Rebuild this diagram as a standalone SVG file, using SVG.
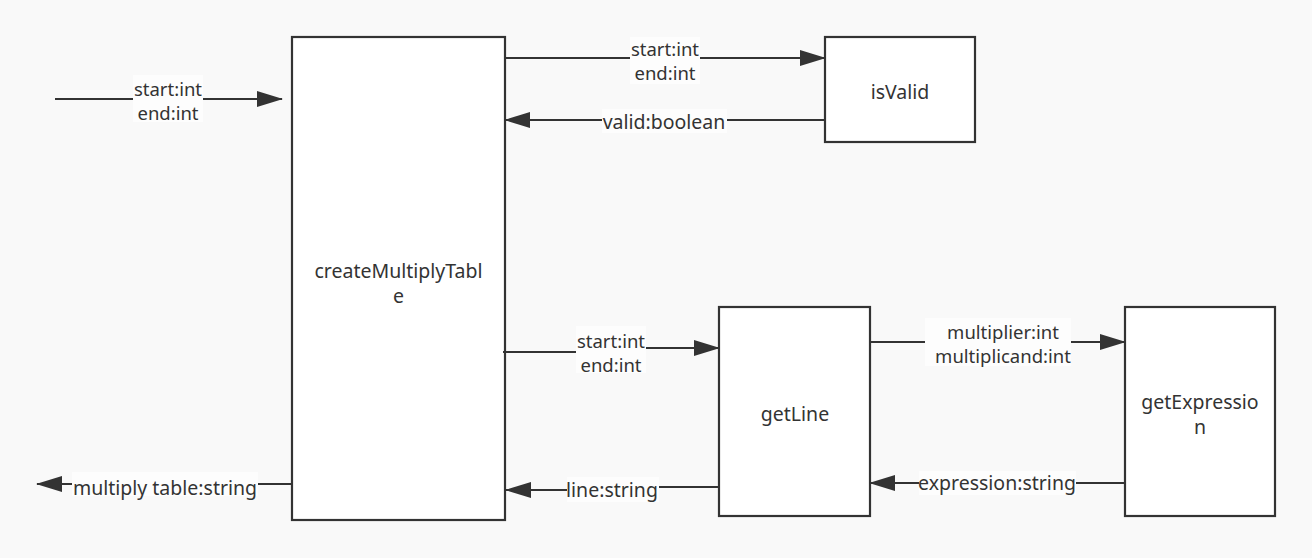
<svg xmlns="http://www.w3.org/2000/svg" width="1312" height="558" viewBox="0 0 1312 558">
<defs>
<marker id="arr" markerUnits="userSpaceOnUse" markerWidth="26" markerHeight="16" viewBox="0 0 26 16" refX="25" refY="8" orient="auto">
<path d="M0,0 L26,8 L0,16 Z" fill="#333"/>
</marker>
<style>
.node rect{fill:#fff;stroke:#333;stroke-width:2.2}
.node text{font-family:"Noto Sans","Open Sans",sans-serif;font-size:19.5px;fill:#333;text-anchor:middle;dominant-baseline:central}
.conn path{fill:none;stroke:#333;stroke-width:2.2;marker-end:url(#arr)}
.lbg{fill:#fdfdfd}
.lbl{font-family:"Noto Sans","Open Sans",sans-serif;font-size:19.5px;fill:#333;text-anchor:middle;dominant-baseline:central}
.lbl2{font-family:"Noto Sans","Open Sans",sans-serif;font-size:18.5px;fill:#333;text-anchor:middle;dominant-baseline:central}
</style>
</defs>
<rect width="1312" height="558" fill="#f9f9f9"/>
<g id="createMultiplyTable" class="node">
<rect x="292" y="37" width="213" height="483"/>
<text x="398.5" y="270">createMultiplyTabl</text>
<text x="398.5" y="295">e</text>
</g>
<g id="isValid" class="node">
<rect x="825" y="37" width="150" height="105"/>
<text x="900" y="91">isValid</text>
</g>
<g id="getLine" class="node">
<rect x="719" y="307" width="151" height="209"/>
<text x="795" y="413">getLine</text>
</g>
<g id="getExpression" class="node">
<rect x="1125" y="307" width="150" height="209"/>
<text x="1200" y="401">getExpressio</text>
<text x="1200" y="426">n</text>
</g>
<g id="connectors" class="conn">
<path d="M55,99 H282"/>
<path d="M506,58 H825"/>
<path d="M825,120 H505"/>
<path d="M503,352 H611 V348 H719"/>
<path d="M719,487 H612 V490 H506"/>
<path d="M870,342 H1125"/>
<path d="M1125,483 H870"/>
<path d="M292,484 H37"/>
</g>
<g id="labels">
<rect class="lbg" x="133" y="75" width="70" height="47"/>
<text class="lbl2" x="168" y="88">start:int</text>
<text class="lbl2" x="168" y="112.5">end:int</text>
<rect class="lbg" x="630" y="37" width="70" height="47"/>
<text class="lbl2" x="665" y="48">start:int</text>
<text class="lbl2" x="665" y="72.5">end:int</text>
<rect class="lbg" x="602" y="109" width="125" height="24"/>
<text class="lbl" x="664" y="121">valid:boolean</text>
<rect class="lbg" x="576" y="326" width="70" height="47"/>
<text class="lbl2" x="611" y="340">start:int</text>
<text class="lbl2" x="611" y="364.5">end:int</text>
<rect class="lbg" x="567" y="477" width="92" height="25"/>
<text class="lbl" x="612" y="489">line:string</text>
<rect class="lbg" x="925" y="318" width="146" height="48"/>
<text class="lbl2" x="1003" y="331">multiplier:int</text>
<text class="lbl2" x="1003" y="355.5">multiplicand:int</text>
<rect class="lbg" x="919" y="471" width="157" height="24"/>
<text class="lbl" x="997" y="482">expression:string</text>
<rect class="lbg" x="72" y="472" width="186" height="24"/>
<text class="lbl" x="165" y="487">multiply table:string</text>
</g>
</svg>
